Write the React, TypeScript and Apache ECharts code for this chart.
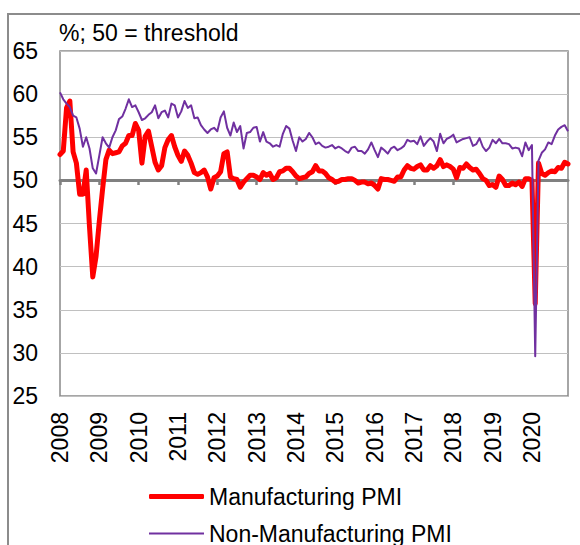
import { useEffect, useRef } from "react";
import * as echarts from "echarts";

const years = [2008, 2009, 2010, 2011, 2012, 2013, 2014, 2015, 2016, 2017, 2018, 2019, 2020];
const months = ["01", "02", "03", "04", "05", "06", "07", "08", "09", "10", "11", "12"];
const categories = years.flatMap((y) => months.map((m) => `${y}-${m}`));

const titleText = "%; 50 = threshold";
const seriesNames = ["Manufacturing PMI", "Non-Manufacturing PMI"];

// Manufacturing PMI, monthly Jan 2008 – Dec 2020
const manufacturing = [
  53.0, 53.4, 58.4, 59.2, 53.3, 52.0, 48.4, 48.4, 51.2, 44.6, 38.8, 41.2, // 2008
  45.3, 49.0, 52.4, 53.5, 53.1, 53.2, 53.3, 54.0, 54.3, 55.2, 55.2, 56.6, // 2009
  55.8, 52.0, 55.1, 55.7, 53.9, 52.1, 51.2, 51.7, 53.8, 54.7, 55.2, 53.9, // 2010
  52.9, 52.2, 53.4, 52.9, 52.0, 50.9, 50.7, 50.9, 51.2, 50.4, 49.0, 50.3, // 2011
  50.5, 51.0, 53.1, 53.3, 50.4, 50.2, 50.1, 49.2, 49.8, 50.2, 50.6, 50.6, // 2012
  50.4, 50.1, 50.9, 50.6, 50.8, 50.1, 50.3, 51.0, 51.1, 51.4, 51.4, 51.0, // 2013
  50.5, 50.2, 50.3, 50.4, 50.8, 51.0, 51.7, 51.1, 51.1, 50.8, 50.3, 50.1, // 2014
  49.8, 49.9, 50.1, 50.1, 50.2, 50.2, 50.0, 49.7, 49.8, 49.8, 49.6, 49.7, // 2015
  49.4, 49.0, 50.2, 50.1, 50.1, 50.0, 49.9, 50.4, 50.4, 51.2, 51.7, 51.4, // 2016
  51.3, 51.6, 51.8, 51.2, 51.2, 51.7, 51.4, 51.7, 52.4, 51.6, 51.8, 51.6, // 2017
  51.3, 50.3, 51.5, 51.4, 51.9, 51.5, 51.2, 51.3, 50.8, 50.2, 50.0, 49.4, // 2018
  49.5, 49.2, 50.5, 50.1, 49.4, 49.4, 49.7, 49.5, 49.8, 49.3, 50.2, 50.2, // 2019
  50.0, 35.7, 52.0, 50.8, 50.6, 50.9, 51.1, 51.0, 51.5, 51.4, 52.1, 51.9, // 2020
];

// Non-Manufacturing PMI, monthly Jan 2008 – Dec 2020
const nonManufacturing = [
  60.2, 59.4, 58.9, 58.5, 57.5, 57.3, 56.0, 53.9, 55.0, 53.7, 51.4, 50.8, // 2008
  52.9, 55.0, 54.3, 53.8, 55.0, 55.8, 57.1, 57.4, 58.3, 59.4, 58.5, 58.7, // 2009
  57.9, 57.0, 57.2, 57.6, 57.9, 58.7, 57.2, 57.9, 58.1, 57.3, 58.9, 58.7, // 2010
  57.3, 58.0, 59.2, 58.4, 58.7, 57.2, 57.3, 56.4, 55.9, 55.5, 55.9, 56.1, // 2011
  55.7, 57.3, 58.0, 56.1, 55.2, 56.7, 55.6, 56.3, 53.7, 55.5, 55.6, 56.1, // 2012
  56.2, 54.5, 55.6, 54.5, 54.3, 53.9, 54.1, 53.9, 55.4, 56.3, 56.0, 54.6, // 2013
  53.4, 55.0, 54.5, 54.8, 55.5, 55.0, 54.2, 54.4, 54.0, 53.8, 53.9, 54.1, // 2014
  53.7, 53.9, 53.7, 53.4, 53.2, 53.8, 53.9, 53.4, 53.4, 53.1, 53.6, 54.4, // 2015
  53.5, 52.7, 53.8, 53.5, 53.1, 53.7, 53.9, 53.5, 53.7, 54.0, 54.7, 54.5, // 2016
  54.6, 54.2, 55.1, 54.0, 54.5, 54.9, 54.5, 53.4, 55.4, 54.3, 54.8, 55.0, // 2017
  55.3, 54.4, 54.6, 54.8, 54.9, 55.0, 54.0, 54.2, 54.9, 53.9, 53.4, 53.8, // 2018
  54.7, 54.3, 54.8, 54.3, 54.3, 54.2, 53.7, 53.8, 53.7, 52.8, 54.4, 53.5, // 2019
  54.1, 29.6, 52.3, 53.2, 53.6, 54.4, 54.2, 55.2, 55.9, 56.2, 56.4, 55.7, // 2020
];

export default function App() {
  const ref = useRef<HTMLDivElement>(null);

  useEffect(() => {
    if (!ref.current) return;
    const chart = echarts.init(ref.current, null, { renderer: "svg" });
    const font = '"Liberation Sans", Arial, Helvetica, sans-serif';
    const yearTick = (i: number) => i % 12 === 0;
    const legendText = { fontSize: 23, color: "#000", fontFamily: font };

    chart.setOption({
      animation: false,
      textStyle: { fontFamily: font },
      grid: {
        left: 60,
        right: 12,
        top: 51,
        bottom: 149,
        show: true,
        borderColor: "#898989",
        borderWidth: 1.5,
      },
      xAxis: [
        {
          type: "category",
          data: categories,
          boundaryGap: false,
          axisLine: { show: false },
          axisTick: { show: false },
          splitLine: { show: false },
          axisLabel: {
            interval: yearTick,
            rotate: 90,
            margin: 16,
            fontSize: 23,
            color: "#000",
            fontFamily: font,
            formatter: (v: string) => v.slice(0, 4),
          },
        },
        {
          type: "category",
          data: categories,
          boundaryGap: false,
          position: "bottom",
          offset: -216,
          axisLine: { show: true, lineStyle: { color: "#808080", width: 3 } },
          axisTick: {
            show: true,
            interval: yearTick,
            length: 5,
            lineStyle: { color: "#808080", width: 2.5 },
          },
          axisLabel: { show: false },
          splitLine: { show: false },
        },
      ],
      yAxis: {
        type: "value",
        min: 25,
        max: 65,
        interval: 5,
        axisLine: { show: false },
        axisTick: { show: false },
        axisLabel: { fontSize: 23, color: "#000", margin: 22, fontFamily: font },
        splitLine: { lineStyle: { color: "#c0c0c0", width: 1 } },
      },
      legend: [
        {
          left: 144,
          top: 480,
          itemWidth: 55,
          itemHeight: 5,
          icon: "roundRect",
          textStyle: legendText,
          data: [seriesNames[0]],
        },
        {
          left: 144,
          top: 517,
          itemWidth: 55,
          itemHeight: 2,
          icon: "rect",
          textStyle: legendText,
          data: [seriesNames[1]],
        },
      ],
      series: [
        {
          name: seriesNames[0],
          type: "line",
          xAxisIndex: 0,
          data: manufacturing,
          symbol: "none",
          lineStyle: { color: "#ff0000", width: 5, join: "round", cap: "round" },
          itemStyle: { color: "#ff0000" },
          z: 3,
        },
        {
          name: seriesNames[1],
          type: "line",
          xAxisIndex: 0,
          data: nonManufacturing,
          symbol: "none",
          lineStyle: { color: "#7030a0", width: 2, join: "round" },
          itemStyle: { color: "#7030a0" },
          z: 4,
        },
      ],
      graphic: [
        {
          type: "rect",
          silent: true,
          z: -10,
          shape: { x: 8, y: 14, width: 640, height: 640 },
          style: { fill: "none", stroke: "#8c8c8c", lineWidth: 2 },
        },
        {
          type: "text",
          x: 59,
          y: 33,
          style: {
            text: titleText,
            fontSize: 23,
            fontFamily: font,
            fill: "#000",
            verticalAlign: "middle",
          },
        },
      ],
    });

    return () => chart.dispose();
  }, []);

  return (
    <div
      ref={ref}
      style={{ position: "absolute", left: 0, top: 0, width: 580, height: 545 }}
    />
  );
}
